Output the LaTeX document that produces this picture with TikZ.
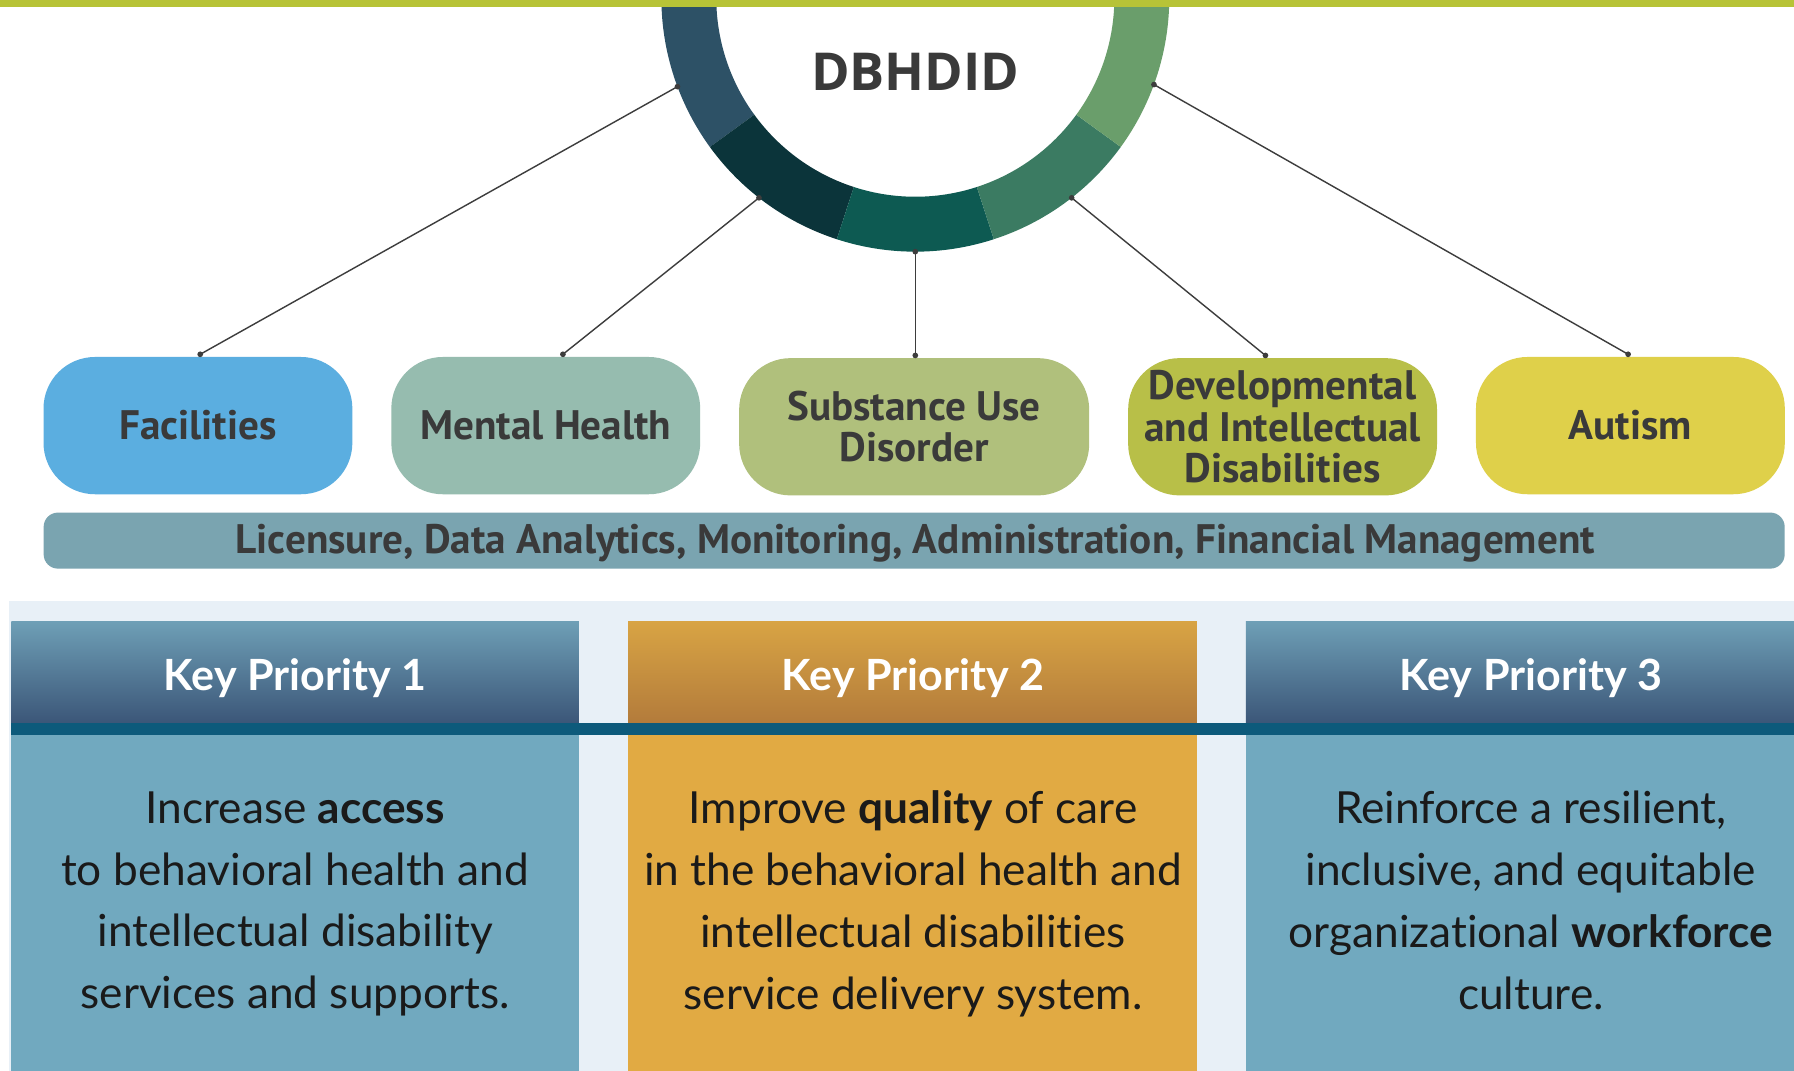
\documentclass[tikz,border=0pt]{standalone}
\usepackage{fontspec}
\setmainfont{Lato}[Ligatures=NoCommon]
\newfontfamily\labfont{PT Sans}
\newfontfamily\ttlfont{Open Sans}
\usetikzlibrary{calc}
\definecolor{topbar}{HTML}{B7C337}
\definecolor{cFac}{HTML}{5BAEE0}
\definecolor{cMH}{HTML}{96BCAF}
\definecolor{cSUD}{HTML}{B0C07C}
\definecolor{cDID}{HTML}{B8BF48}
\definecolor{cAut}{HTML}{DFD04A}
\definecolor{cBand}{HTML}{7AA4B0}
\definecolor{labgray}{HTML}{3A3A3A}
\definecolor{ringA}{HTML}{2D5166}
\definecolor{ringB}{HTML}{0B343A}
\definecolor{ringC}{HTML}{0D5A52}
\definecolor{ringD}{HTML}{3B7B62}
\definecolor{ringE}{HTML}{6A9E6B}
\definecolor{bgl}{HTML}{E8F0F7}
\definecolor{kpAtop}{HTML}{6E9FB6}
\definecolor{kpAbot}{HTML}{3B5678}
\definecolor{kpBtop}{HTML}{D8A444}
\definecolor{kpBbot}{HTML}{B37B3B}
\definecolor{kpAbody}{HTML}{71A9BF}
\definecolor{kpBbody}{HTML}{E1AA43}
\definecolor{kpLine}{HTML}{0D5A7B}
\definecolor{conncol}{HTML}{3D3D3D}
\definecolor{bodytext}{HTML}{1A1A1A}
\tikzset{
  catbox/.style={rounded corners=0.9cm, minimum width=5.4cm, minimum height=2.4cm, inner sep=0pt, align=center,
    font=\labfont\bfseries\fontsize{20.5}{20.5}\selectfont, text=labgray},
  conn/.style={draw=conncol, line width=0.7pt},
  kphead/.style={text=white, font=\bfseries\fontsize{21.4}{24}\selectfont},
  kpbody/.style={text=bodytext, align=center, font=\fontsize{22}{30.7}\selectfont},
}
\begin{document}
\begin{tikzpicture}[x=0.02cm,y=-0.02cm]
\useasboundingbox (0,0) rectangle (1568,936);
\clip (0,0) rectangle (1568,936);
\fill[white] (0,0) rectangle (1568,936);
% ring
\begin{scope}[shift={(800,-2)}, x=1cm, y=1cm]
  \fill[ringA] (180:4.44) arc[start angle=180,end angle=216,radius=4.44cm] -- (216:3.48) arc[start angle=216,end angle=180,radius=3.48cm] -- cycle;
  \fill[ringB] (216:4.44) arc[start angle=216,end angle=252,radius=4.44cm] -- (252:3.48) arc[start angle=252,end angle=216,radius=3.48cm] -- cycle;
  \fill[ringC] (252:4.44) arc[start angle=252,end angle=288,radius=4.44cm] -- (288:3.48) arc[start angle=288,end angle=252,radius=3.48cm] -- cycle;
  \fill[ringD] (288:4.44) arc[start angle=288,end angle=324,radius=4.44cm] -- (324:3.48) arc[start angle=324,end angle=288,radius=3.48cm] -- cycle;
  \fill[ringE] (324:4.44) arc[start angle=324,end angle=360,radius=4.44cm] -- (360:3.48) arc[start angle=360,end angle=324,radius=3.48cm] -- cycle;
  \coordinate (r1) at (200.5:4.44);
  \coordinate (r2) at (232:4.44);
  \coordinate (r3) at (270:4.44);
  \coordinate (r4) at (308:4.44);
  \coordinate (r5) at (340:4.44);
\end{scope}
\fill[topbar] (0,0) rectangle (1568,6);
\node[font=\ttlfont\bfseries\fontsize{26}{30}\selectfont, text=labgray] (title) at (800,63) {DBHDID};
% category boxes
\node[catbox, fill=cFac] (fac) at (173,372) {Facilities};
\node[catbox, fill=cMH] (mh) at (477,372) {Mental Health};
\node[catbox, fill=cSUD, minimum width=6.12cm] (sud) at (799,373) {Substance Use\\Disorder};
\node[catbox, fill=cDID] (did) at (1121,373) {Developmental\\and Intellectual\\Disabilities};
\node[catbox, fill=cAut] (aut) at (1425,372) {Autism};
% connectors
\foreach \a/\b/\dx in {r1/fac/2, r2/mh/15, r3/sud/1, r4/did/-15, r5/aut/-2}{
  \draw[conn] (\a) -- ($(\b.north)+(\dx,-2)$);
  \fill[conncol] (\a) circle (0.05cm);
  \fill[conncol] ($(\b.north)+(\dx,-2)$) circle (0.05cm);
}
% band
\node[fill=cBand, rounded corners=0.25cm, minimum width=30.44cm, minimum height=0.98cm, inner sep=0pt] (band) at (799,472.5) {};
\node[font=\labfont\bfseries\fontsize{20.5}{22}\selectfont, text=labgray] (bandtext) at (800,475)
  {Licensure, Data Analytics, Monitoring, Administration, Financial Management};
% bottom section
\fill[bgl] (8,525) rectangle (1568,936);
\shade[top color=kpAtop, bottom color=kpAbot] (10,543) rectangle (506,632);
\shade[top color=kpBtop, bottom color=kpBbot] (549,543) rectangle (1046,632);
\shade[top color=kpAtop, bottom color=kpAbot] (1089,543) rectangle (1568,632);
\fill[kpAbody] (10,642) rectangle (506,936);
\fill[kpBbody] (549,642) rectangle (1046,936);
\fill[kpAbody] (1089,642) rectangle (1568,936);
\fill[kpLine] (10,632) rectangle (1568,642);
\node[kphead] (k1) at (258,593) {Key Priority 1};
\node[kphead] (k2) at (798,593) {Key Priority 2};
\node[kphead] (k3) at (1338,593) {Key Priority 3};
\node[kpbody] (b1) at (258,790) {Increase \textbf{access}\\to behavioral health and\\intellectual disability\\services and supports.};
\node[kpbody] (b2) at (798,790) {Improve \textbf{quality} of care\\in the behavioral health and\\intellectual disabilities\\service delivery system.};
\node[kpbody] (b3) at (1338,787) {Reinforce a resilient,\\inclusive, and equitable\\organizational \textbf{workforce}\\culture.};
\end{tikzpicture}
\end{document}
